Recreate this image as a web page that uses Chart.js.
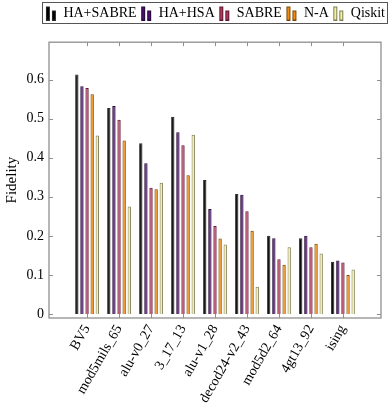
<!DOCTYPE html>
<html lang="en">
<head>
  <meta charset="UTF-8">
  <title>Fidelity per circuit</title>
  <script src="https://cdn.jsdelivr.net/npm/chart.js"></script>
  <style>
    html, body { margin: 0; padding: 0; background: #fff; }
    #wrap { width: 390px; height: 413px; }
  </style>
</head>
<body>
  <div id="wrap"><canvas id="fidelityChart"></canvas></div>

  <script>
    // values
    const circuits = ['BV5', 'mod5mils_65', 'alu-v0_27', '3_17_13', 'alu-v1_28', 'decod24-v2_43', 'mod5d2_64', '4gt13_92', 'ising'];
    const haSabre = [0.613, 0.527, 0.437, 0.505, 0.343, 0.307, 0.200, 0.194, 0.134];
    const haHsa   = [0.583, 0.532, 0.386, 0.465, 0.269, 0.305, 0.194, 0.200, 0.137];
    const sabre   = [0.578, 0.497, 0.323, 0.432, 0.225, 0.263, 0.140, 0.171, 0.132];
    const nA      = [0.562, 0.444, 0.319, 0.355, 0.193, 0.213, 0.126, 0.180, 0.100];
    const qiskit  = [0.457, 0.275, 0.336, 0.459, 0.178, 0.070, 0.171, 0.155, 0.114];
    const yTicks  = [0, 0.1, 0.2, 0.3, 0.4, 0.5, 0.6];

    const seriesNames = ['HA+SABRE', 'HA+HSA', 'SABRE', 'N-A', 'Qiskit'];
    const seriesData  = [haSabre, haHsa, sabre, nA, qiskit];
    const fills   = ['#000000', '#4c106c', '#b3365b', '#f28c10', '#f2f0a2'];
    const borders = ['#2a2a2a', '#26083a', '#5c1a2e', '#7a4608', '#7f7c52'];

    const serif = "'Liberation Serif', 'DejaVu Serif', serif";
    const frameColor = '#8f8f8f';

    // little two-bar marker like the pgfplots ybar legend
    function legendMarker(fill, border) {
      const c = document.createElement('canvas');
      c.width = 13; c.height = 15;
      const g = c.getContext('2d');
      g.fillStyle = fill; g.strokeStyle = border; g.lineWidth = 1;
      g.fillRect(1, 1, 3, 13); g.strokeRect(1.5, 1.5, 3, 13);
      g.fillRect(7, 5, 3, 9);  g.strokeRect(7.5, 5.5, 3, 9);
      return c;
    }

    const frame = {
      id: 'frame',
      afterDraw(chart) {
        const { ctx, chartArea: a, scales: { x, y } } = chart;
        ctx.save();
        ctx.strokeStyle = frameColor;
        ctx.lineWidth = 1;
        ctx.beginPath();
        x.ticks.forEach(t => {
          const px = Math.round(x.getPixelForValue(t.value)) + 0.5;
          ctx.moveTo(px, a.bottom); ctx.lineTo(px, a.bottom - 4);
          ctx.moveTo(px, a.top); ctx.lineTo(px, a.top + 4);
        });
        y.ticks.forEach(t => {
          const py = Math.round(y.getPixelForValue(t.value)) + 0.5;
          ctx.moveTo(a.left, py); ctx.lineTo(a.left + 4, py);
          ctx.moveTo(a.right, py); ctx.lineTo(a.right - 4, py);
        });
        ctx.stroke();
        ctx.lineWidth = 1.3;
        ctx.strokeRect(a.left, a.top, a.right - a.left, a.bottom - a.top);

        // box around the legend
        const boxes = chart.legend.legendHitBoxes;
        if (boxes && boxes.length) {
          const l = Math.min(...boxes.map(b => b.left)) - 4;
          const r = Math.max(...boxes.map(b => b.left + b.width)) + 2;
          const t = Math.min(...boxes.map(b => b.top)) - 4;
          const btm = Math.max(...boxes.map(b => b.top + b.height)) + 3;
          ctx.lineWidth = 1;
          ctx.strokeStyle = '#555';
          ctx.strokeRect(Math.round(l) + 0.5, Math.round(t) + 0.5, Math.round(r - l), Math.round(btm - t));
        }
        ctx.restore();
      }
    };

    new Chart(document.getElementById('fidelityChart'), {
      type: 'bar',
      data: {
        datasets: seriesNames.map((name, k) => ({
          label: name,
          data: seriesData[k].map((v, i) => ({ x: i, y: v })),
          backgroundColor: fills[k],
          borderColor: borders[k],
          borderWidth: 1,
          barPercentage: 0.65,
          categoryPercentage: 0.8
        }))
      },
      options: {
        responsive: true,
        maintainAspectRatio: false,
        animation: false,
        layout: { padding: { left: 0, right: 0, top: 1, bottom: 0 } },
        plugins: {
          tooltip: { enabled: false },
          legend: {
            position: 'top',
            align: 'end',
            weight: 3000,
            labels: {
              font: { family: serif, size: 14 },
              color: '#000',
              usePointStyle: true,
              pointStyleWidth: 10,
              padding: 5,
              generateLabels: chart => chart.data.datasets.map((ds, i) => ({
                text: ds.label,
                pointStyle: legendMarker(fills[i], borders[i]),
                fillStyle: ds.backgroundColor,
                strokeStyle: ds.borderColor,
                lineWidth: 0,
                datasetIndex: i,
                hidden: false
              }))
            }
          },
          title: {
            display: true,
            text: '',
            font: { size: 1 },
            padding: { top: 0, bottom: 11 }
          }
        },
        scales: {
          x: {
            type: 'linear',
            offset: false,
            min: -1.19,
            max: 9.19,
            grid: { display: false, drawTicks: false },
            border: { display: false },
            afterBuildTicks: s => { s.ticks = circuits.map((c, i) => ({ value: i })); },
            afterFit: s => { s.height = 95; },
            ticks: {
              autoSkip: false,
              minRotation: 60,
              maxRotation: 60,
              padding: 4,
              color: '#000',
              font: { family: serif, size: 14 },
              callback: v => circuits[v]
            }
          },
          y: {
            min: -0.0102,
            max: 0.6955,
            grid: { display: false, drawTicks: false },
            border: { display: false },
            afterBuildTicks: s => { s.ticks = yTicks.map(v => ({ value: v })); },
            afterFit: s => { s.width = 49; },
            ticks: {
              padding: 5,
              color: '#000',
              font: { family: serif, size: 14 },
              callback: v => (v === 0 ? '0' : v.toFixed(1))
            },
            title: {
              display: true,
              text: 'Fidelity',
              color: '#000',
              font: { family: serif, size: 15 },
              padding: { top: 3, bottom: 0 }
            }
          },
          // empty right-hand strip so the plot frame stops short of the edge
          yRight: {
            position: 'right',
            display: true,
            min: 0,
            max: 1,
            grid: { display: false, drawTicks: false },
            border: { display: false },
            ticks: { display: false },
            afterFit: s => { s.width = 9; }
          }
        }
      },
      plugins: [frame]
    });
  </script>
</body>
</html>
